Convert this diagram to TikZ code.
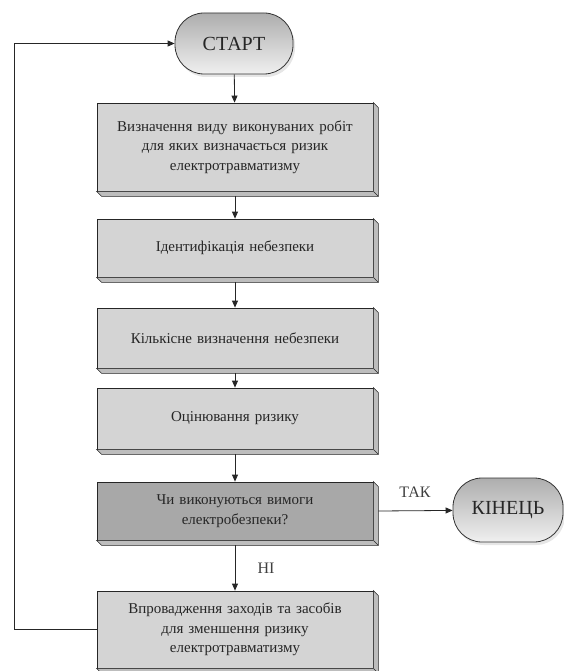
\documentclass[tikz,border=0pt]{standalone}
\usepackage{fontspec}
\setmainfont{Liberation Serif}
\usetikzlibrary{arrows.meta,calc,shadows}

\tikzset{
  blok/.style={draw=black!85, line width=0.8pt, fill=black!17, minimum width=276pt,
    text width=266pt, align=center, inner sep=0pt,
    font=\fontsize{15}{19.5}\selectfont, text=black!85},
  rishennia/.style={blok, fill=black!34},
  termin/.style={draw=black!80, line width=0.8pt, rounded corners=29pt,
    top color=black!32, bottom color=black!6, minimum width=118pt, minimum height=61pt,
    font=\fontsize{20}{22}\selectfont, text=black!85,
    drop shadow={opacity=0.2, shadow xshift=2pt, shadow yshift=-3pt}},
  strilka/.style={-{Triangle[length=7pt,width=6pt]}, line width=0.8pt, draw=black!85},
  pidpys/.style={font=\fontsize{16}{18}\selectfont, text=black!75}
}
% objemnyi kraj bloku
\newcommand{\bevel}[1]{%
  \filldraw[fill=black!26, draw=black!85, line width=0.6pt]
    (#1.north east) -- ++(5,5) -- ($(#1.south east)+(5,5)$) -- ($(#1.south west)+(5,5)$)
    -- (#1.south west) -- (#1.south east) -- cycle;
  \draw[black!85, line width=0.4pt] (#1.south east) -- ++(5,5);}

\begin{document}
\begin{tikzpicture}[x=1pt,y=-1pt]
  \useasboundingbox (0,0) rectangle (563,671);

  \node[termin] (start) at (234,43.5) {СТАРТ};
  \node[blok, minimum height=88pt] (b1) at (235,147)
    {Визначення виду виконуваних робіт\\ для яких визначається ризик\\ електротравматизму};
  \bevel{b1}
  \node[blok, minimum height=58pt] (b2) at (235,248) {Ідентифікація небезпеки};
  \bevel{b2}
  \node[blok, minimum height=60pt] (b3) at (235,338) {Кількісне визначення небезпеки};
  \bevel{b3}
  \node[blok, minimum height=61pt] (b4) at (235,418.5) {Оцінювання ризику};
  \bevel{b4}
  \node[rishennia, minimum height=58pt] (dec) at (235,511)
    {Чи виконуються вимоги\\ електробезпеки?};
  \bevel{dec}
  \node[blok, minimum height=77pt] (b6) at (235,629.5)
    {Впровадження заходів та засобів\\ для зменшення ризику\\ електротравматизму};
  \bevel{b6}
  \node[termin, minimum width=110pt, minimum height=64pt] (kin) at (508,510) {КІНЕЦЬ};

  \draw[strilka] (start) -- (b1);
  \draw[strilka] ($(b1.south)+(0,5)$) -- (b2);
  \draw[strilka] ($(b2.south)+(0,5)$) -- (b3);
  \draw[strilka] ($(b3.south)+(0,5)$) -- (b4);
  \draw[strilka] ($(b4.south)+(0,5)$) -- (dec);
  \draw[strilka] ($(dec.south)+(0,5)$) -- (b6);
  \draw[strilka] ($(dec.east)+(5,0)$) -- (kin);
  \coordinate (petlia) at (14,629.5);
  \draw[strilka] (b6.west) -- (petlia) |- (start.west);

  \node[pidpys] (tak) at (415,492) {ТАК};
  \node[pidpys] (ni) at (266,568) {НІ};
\end{tikzpicture}
\end{document}
